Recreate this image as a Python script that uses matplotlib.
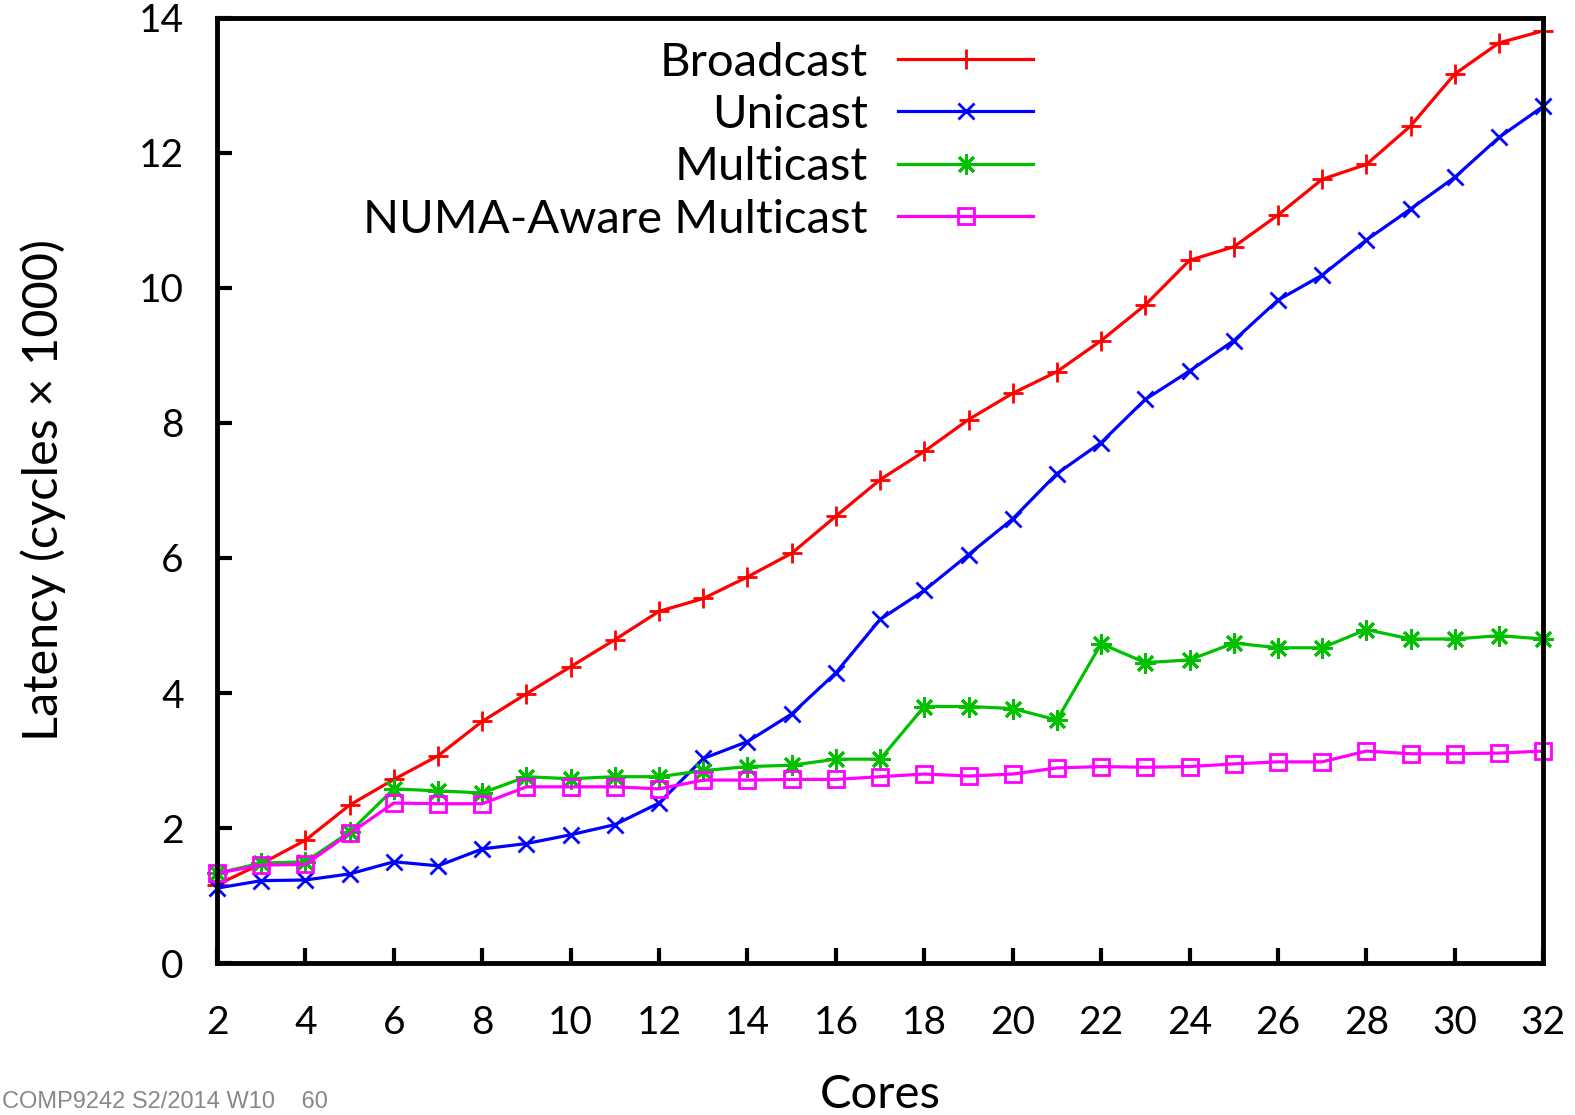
import matplotlib
matplotlib.use("Agg")
from matplotlib import pyplot as plt

cores = list(range(2, 33))

broadcast = [1.16, 1.47, 1.82, 2.34, 2.72, 3.07, 3.58, 3.99, 4.39, 4.79, 5.21, 5.40,
             5.72, 6.07, 6.62, 7.16, 7.58, 8.05, 8.44, 8.76, 9.22, 9.75, 10.41, 10.61,
             11.08, 11.61, 11.83, 12.40, 13.17, 13.63, 13.81]
unicast = [1.11, 1.22, 1.23, 1.32, 1.50, 1.44, 1.69, 1.77, 1.90, 2.05, 2.37, 3.03,
           3.28, 3.69, 4.30, 5.09, 5.52, 6.05, 6.58, 7.25, 7.71, 8.35, 8.77, 9.22,
           9.82, 10.19, 10.71, 11.17, 11.64, 12.23, 12.69]
multicast = [1.33, 1.48, 1.50, 1.94, 2.58, 2.55, 2.52, 2.76, 2.73, 2.76, 2.76, 2.85,
             2.91, 2.93, 3.02, 3.02, 3.80, 3.80, 3.77, 3.60, 4.73, 4.45, 4.49, 4.74,
             4.67, 4.67, 4.94, 4.80, 4.80, 4.85, 4.80]
numa = [1.33, 1.45, 1.46, 1.92, 2.37, 2.36, 2.36, 2.61, 2.61, 2.61, 2.58, 2.71,
        2.71, 2.72, 2.72, 2.76, 2.80, 2.77, 2.80, 2.89, 2.91, 2.90, 2.91, 2.95,
        2.98, 2.98, 3.14, 3.10, 3.10, 3.11, 3.14]

series = [
    ("Broadcast", broadcast, "#ff0000", "+", 15),
    ("Unicast", unicast, "#0000ff", "x", 12),
    ("Multicast", multicast, "#00c000", (8, 2, 0), 15),
    ("NUMA-Aware Multicast", numa, "#ff00ff", "s", 11),
]

plt.rcParams["font.family"] = ["Lato", "DejaVu Sans"]

fig = plt.figure(figsize=(15.75, 11.15), dpi=100)
ax = fig.add_axes([0.1378, 0.1363, 0.842, 0.8476])

for name, vals, col, mk, ms in series:
    ax.plot(cores, vals, color=col, lw=2.3, marker=mk, markersize=ms,
            markeredgewidth=2, fillstyle="none", label=name, clip_on=False)

ax.set_xlim(2, 32)
ax.set_ylim(0, 14)
ax.set_xticks(range(2, 33, 2))
ax.set_yticks(range(0, 15, 2))
ax.tick_params(direction="in", length=11, width=3, labelsize=28,
               top=False, right=False)
ax.tick_params(axis="x", pad=30)
ax.tick_params(axis="y", pad=24)
for s in ax.spines.values():
    s.set_linewidth(3.5)

ax.set_xlabel("Cores", fontsize=34, labelpad=24)
ax.set_ylabel("Latency (cycles \u00d7 1000)", fontsize=35, labelpad=52)

ax.legend(loc="upper right", bbox_to_anchor=(0.633, 1.0), fontsize=34,
          frameon=False, markerfirst=False, numpoints=1, handlelength=2.85,
          labelspacing=0.22, handletextpad=0.65, borderaxespad=0.1)

fig.text(0.001, 0.002, "COMP9242 S2/2014 W10    60", fontsize=17,
         color="#888888", family="Liberation Sans", va="bottom")

fig.savefig("out.png")
